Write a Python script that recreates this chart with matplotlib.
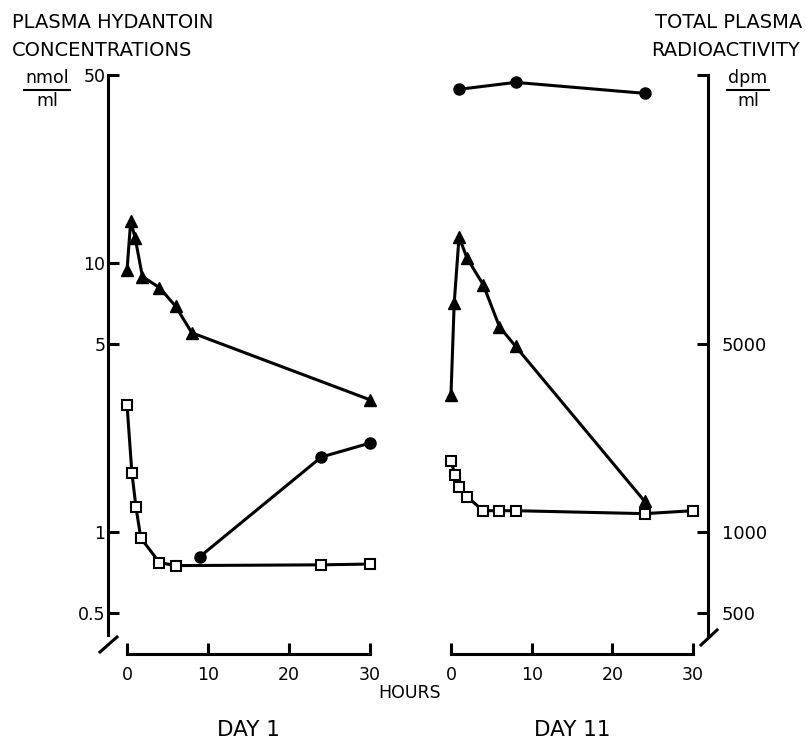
import matplotlib
matplotlib.use("Agg")
import matplotlib.pyplot as plt
from matplotlib.lines import Line2D

# hydantoin (nmol/ml), day 1
d1_tri_t = [0, 0.45, 1, 1.9, 4, 6, 8, 30]
d1_tri_v = [9.4, 14.3, 12.4, 8.9, 8.1, 6.9, 5.5, 3.1]
d1_sq_t = [0, 0.6, 1.1, 1.7, 4, 6, 24, 30]
d1_sq_v = [2.97, 1.66, 1.24, 0.95, 0.77, 0.75, 0.755, 0.76]
# total radioactivity (dpm/ml), day 1
d1_dot_t = [9, 24, 30]
d1_dot_v = [810, 1900, 2140]

# day 11
d11_tri_t = [0, 0.4, 1, 2, 4, 6, 8, 24]
d11_tri_v = [3.23, 7.1, 12.5, 10.4, 8.3, 5.8, 4.9, 1.3]
d11_sq_t = [0, 0.5, 1, 2, 4, 6, 8, 24, 30]
d11_sq_v = [1.84, 1.63, 1.47, 1.35, 1.2, 1.2, 1.2, 1.17, 1.2]
d11_dot_t = [1, 8, 24]
d11_dot_v = [44200, 46900, 42700]

xticks = [0, 10, 20, 30]
left_ticks = [0.5, 1, 5, 10, 50]
left_labels = ["0.5", "1", "5", "10", "50"]
right_ticks = [500, 1000, 5000, 50000]
right_labels = ["500", "1000", "5000", ""]

W, H = 806, 743
fig = plt.figure(figsize=(W / 100, H / 100), dpi=100)
plt.rcParams['font.family'] = ['DejaVu Sans']

lw = 2.2
ymin, ymax = 0.352, 67.4


def frac(x0, x1):
    return x0 / W, 1 - 654 / H, (x1 - x0) / W, (654 - 40) / H


ax1 = fig.add_axes(frac(108, 375))
ax1.set_xlim(-2.35, 30.62)
ax2 = fig.add_axes(frac(440, 708))
ax2.set_xlim(-1.36, 31.85)

for ax in (ax1, ax2):
    ax.set_yscale("log")
    ax.set_ylim(ymin, ymax)
    ax.patch.set_visible(False)
    ax.spines["top"].set_visible(False)
    ax.spines["right"].set_visible(False)
    ax.spines["bottom"].set_bounds(0, 30)
    ax.spines["bottom"].set_linewidth(lw)
    ax.spines["left"].set_linewidth(lw)
    ax.set_xticks(xticks)
    ax.set_xticklabels([str(t) for t in xticks])
    ax.tick_params(axis="x", direction="in", length=8, width=lw,
                   labelsize=12.5, pad=9)
    ax.minorticks_off()

ax1.spines["left"].set_bounds(0.414, 50)
ax1.set_yticks(left_ticks)
ax1.set_yticklabels(left_labels)
ax1.tick_params(axis="y", direction="in", length=8, width=lw, labelsize=12.5, pad=2)
ax1.minorticks_off()
ax2.spines["left"].set_visible(False)
ax2.set_yticks([])
ax2.minorticks_off()

# right-hand scales (dpm/ml)
t1 = ax1.twinx()
t2 = ax2.twinx()
for t in (t1, t2):
    t.set_yscale("log")
    t.set_ylim(ymin * 1000, ymax * 1000)
    for s in t.spines.values():
        s.set_visible(False)
    t.set_yticks([])
    t.minorticks_off()
t2.spines["right"].set_visible(True)
t2.spines["right"].set_linewidth(lw)
t2.spines["right"].set_bounds(414, 50000)
t2.set_yticks(right_ticks)
t2.set_yticklabels(right_labels)
t2.tick_params(axis="y", direction="in", length=8, width=lw, labelsize=13, pad=10)
t2.minorticks_off()

kw = dict(color="black", lw=lw, clip_on=False)
ax1.plot(d1_sq_t, d1_sq_v, marker="s", ms=7, mfc="white", mec="black", mew=1.5, **kw)
ax1.plot(d1_tri_t, d1_tri_v, marker="^", ms=8.5, **kw)
t1.plot(d1_dot_t, d1_dot_v, marker="o", ms=8, **kw)

ax2.plot(d11_sq_t, d11_sq_v, marker="s", ms=7, mfc="white", mec="black", mew=1.5, **kw)
ax2.plot(d11_tri_t, d11_tri_v, marker="^", ms=8.5, **kw)
t2.plot(d11_dot_t, d11_dot_v, marker="o", ms=8, **kw)

# axis break slashes
for (xa, ya, xb, yb) in [(100, 652, 117, 637), (701, 645, 717, 630)]:
    fig.add_artist(Line2D([xa / W, xb / W], [1 - ya / H, 1 - yb / H],
                          color="black", lw=lw, transform=fig.transFigure))


def ftext(x, y, s, **k):
    fig.text(x / W, 1 - y / H, s, fontsize=k.pop("fontsize", 14), **k)


ftext(12, 23, "PLASMA HYDANTOIN", va="center", ha="left")
ftext(12, 50, "CONCENTRATIONS", va="center", ha="left")
ftext(47, 78, "nmol", va="center", ha="center", fontsize=12.5)
ftext(47, 101, "ml", va="center", ha="center", fontsize=12.5)
fig.add_artist(Line2D([24 / W, 70 / W], [1 - 90 / H, 1 - 90 / H], color="black",
                      lw=1.5, transform=fig.transFigure))

ftext(802, 23, "TOTAL PLASMA", va="center", ha="right")
ftext(800, 50, "RADIOACTIVITY", va="center", ha="right")
ftext(748, 78, "dpm", va="center", ha="center", fontsize=12.5)
ftext(748, 101, "ml", va="center", ha="center", fontsize=12.5)
fig.add_artist(Line2D([727 / W, 769 / W], [1 - 90 / H, 1 - 90 / H], color="black",
                      lw=1.5, transform=fig.transFigure))

ftext(410, 693, "HOURS", va="center", ha="center", fontsize=12.5)
ftext(248, 730, "DAY 1", va="center", ha="center", fontsize=15.5)
ftext(572, 730, "DAY 11", va="center", ha="center", fontsize=15.5)

fig.savefig("out.png", dpi=100)
